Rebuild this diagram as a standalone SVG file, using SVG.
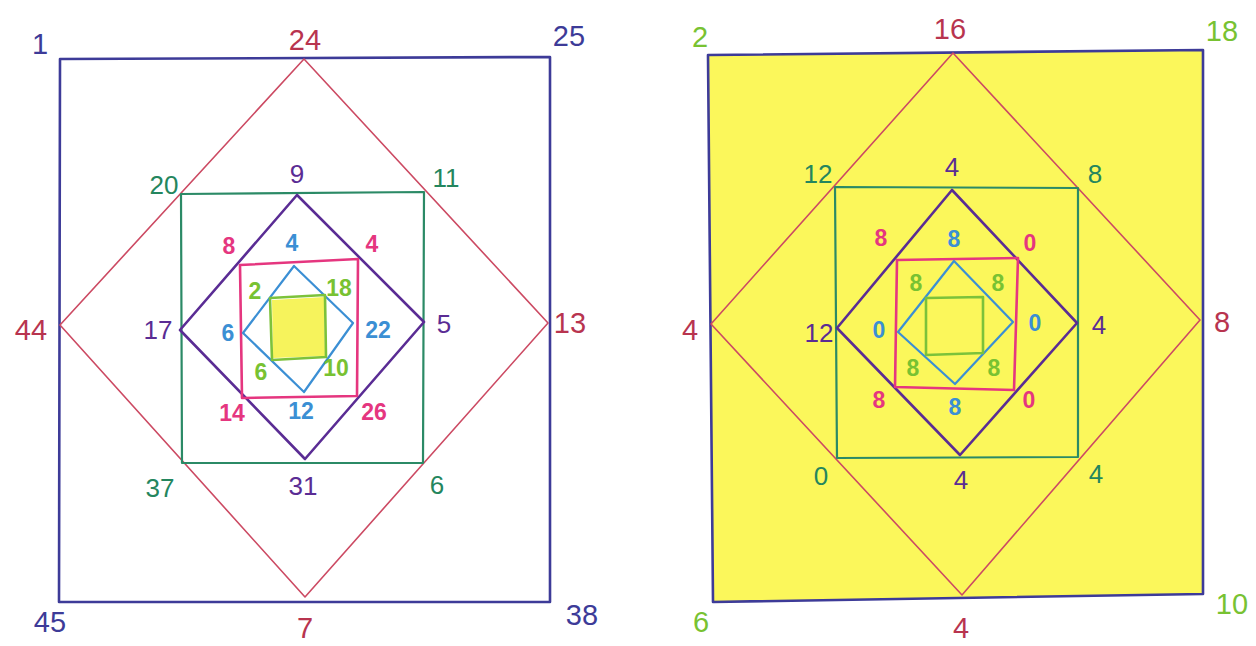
<svg xmlns="http://www.w3.org/2000/svg" width="1256" height="646" viewBox="0 0 1256 646">
<style>
text{font-family:"Liberation Sans","DejaVu Sans",sans-serif;text-anchor:middle;dominant-baseline:central}
.big{font-size:29px}
.mid{font-size:26px}
.sm{font-size:23px;font-weight:bold}
.sq{fill:none;stroke-linejoin:round;stroke-linecap:round}
.blue{stroke:#3d3b98;stroke-width:2.6}
.red{stroke:#cc4a63;stroke-width:1.6}
.green{stroke:#2b8a66;stroke-width:2.2}
.purple{stroke:#5a2c94;stroke-width:2.6}
.pink{stroke:#e5367f;stroke-width:2.6}
.lblue{stroke:#3b8fd4;stroke-width:2.2}
.lime{stroke:#7cc23a;stroke-width:2.6}
.tblue{fill:#3d3b98}.tred{fill:#b8344f}.tgreen{fill:#24865e}.tpurple{fill:#5a2c94}
.tpink{fill:#e5367f}.tlblue{fill:#3b8fd4}.tlime{fill:#78c232}
</style>
<rect width="1256" height="646" fill="#ffffff"/>

<g id="left-figure">
  <g id="L-outer">
    <polygon class="sq blue" points="60,59 550,57 550,602 59,602"/>
    <text class="big tblue" x="40" y="44">1</text>
    <text class="big tblue" x="569" y="36">25</text>
    <text class="big tblue" x="582" y="615">38</text>
    <text class="big tblue" x="50" y="622">45</text>
  </g>
  <g id="L-red">
    <polygon class="sq red" points="304,59 548,323 305,597 60,325"/>
    <text class="big tred" x="305" y="40">24</text>
    <text class="big tred" x="570" y="323">13</text>
    <text class="big tred" x="305" y="628">7</text>
    <text class="big tred" x="31" y="330">44</text>
  </g>
  <g id="L-green">
    <polygon class="sq green" points="181,194 424,192 423,463 182,463"/>
    <text class="mid tgreen" x="164" y="185">20</text>
    <text class="mid tgreen" x="446" y="178">11</text>
    <text class="mid tgreen" x="437" y="485">6</text>
    <text class="mid tgreen" x="160" y="488">37</text>
  </g>
  <g id="L-purple">
    <polygon class="sq purple" points="297,195 424,322 305,459 180,330"/>
    <text class="mid tpurple" x="297" y="174">9</text>
    <text class="mid tpurple" x="444" y="324">5</text>
    <text class="mid tpurple" x="303" y="486">31</text>
    <text class="mid tpurple" x="158" y="330">17</text>
  </g>
  <g id="L-pink">
    <polygon class="sq pink" points="240,265 358,259 357,396 242,398"/>
    <text class="sm tpink" x="229" y="246">8</text>
    <text class="sm tpink" x="372" y="244">4</text>
    <text class="sm tpink" x="374" y="412">26</text>
    <text class="sm tpink" x="232" y="413">14</text>
  </g>
  <g id="L-lblue">
    <polygon class="sq lblue" points="294,266 353,323 304,392 243,333"/>
    <text class="sm tlblue" x="292" y="243">4</text>
    <text class="sm tlblue" x="378" y="330">22</text>
    <text class="sm tlblue" x="301" y="411">12</text>
    <text class="sm tlblue" x="228" y="333">6</text>
  </g>
  <g id="L-lime">
    <polygon points="272,300 324,297 325,356 273,358" fill="#f6f35c"/>
    <polygon class="sq lime" points="270,298 325,295 326,357 272,360"/>
    <text class="sm tlime" x="255" y="291">2</text>
    <text class="sm tlime" x="339" y="288">18</text>
    <text class="sm tlime" x="336" y="368">10</text>
    <text class="sm tlime" x="261" y="372">6</text>
  </g>
</g>

<g id="right-figure">
  <g id="R-outer">
    <polygon points="708,55 1203,50 1203,594 713,602" fill="#fbf75b" stroke="#3d3b98" stroke-width="2.6" stroke-linejoin="round"/>
    <text class="big tlime" x="700" y="37">2</text>
    <text class="big tlime" x="1222" y="31">18</text>
    <text class="big tlime" x="1232" y="604">10</text>
    <text class="big tlime" x="701" y="622">6</text>
  </g>
  <g id="R-red">
    <polygon class="sq red" points="953,53 1200,320 962,595 711,324"/>
    <text class="big tred" x="950" y="29">16</text>
    <text class="big tred" x="1222" y="322">8</text>
    <text class="big tred" x="961" y="628">4</text>
    <text class="big tred" x="690" y="330">4</text>
  </g>
  <g id="R-green">
    <polygon class="sq green" points="835,187 1078,188 1078,457 837,458"/>
    <text class="mid tgreen" x="818" y="174">12</text>
    <text class="mid tgreen" x="1095" y="174">8</text>
    <text class="mid tgreen" x="1096" y="474">4</text>
    <text class="mid tgreen" x="821" y="476">0</text>
  </g>
  <g id="R-purple">
    <polygon class="sq purple" points="952,190 1077,323 960,455 837,328"/>
    <text class="mid tpurple" x="952" y="167">4</text>
    <text class="mid tpurple" x="1099" y="325">4</text>
    <text class="mid tpurple" x="961" y="480">4</text>
    <text class="mid tpurple" x="819" y="333">12</text>
  </g>
  <g id="R-pink">
    <polygon class="sq pink" points="897,260 1018,258 1014,390 895,387"/>
    <text class="sm tpink" x="881" y="238">8</text>
    <text class="sm tpink" x="1030" y="243">0</text>
    <text class="sm tpink" x="1029" y="400">0</text>
    <text class="sm tpink" x="879" y="400">8</text>
  </g>
  <g id="R-lblue">
    <polygon class="sq lblue" points="954,261 1013,322 955,384 898,332"/>
    <text class="sm tlblue" x="954" y="239">8</text>
    <text class="sm tlblue" x="1035" y="323">0</text>
    <text class="sm tlblue" x="955" y="407">8</text>
    <text class="sm tlblue" x="879" y="330">0</text>
  </g>
  <g id="R-lime">
    <polygon class="sq lime" points="926,298 983,297 983,353 926,355"/>
    <text class="sm tlime" x="916" y="283">8</text>
    <text class="sm tlime" x="998" y="283">8</text>
    <text class="sm tlime" x="994" y="368">8</text>
    <text class="sm tlime" x="913" y="368">8</text>
  </g>
</g>
<g id="connectors"/>
</svg>
